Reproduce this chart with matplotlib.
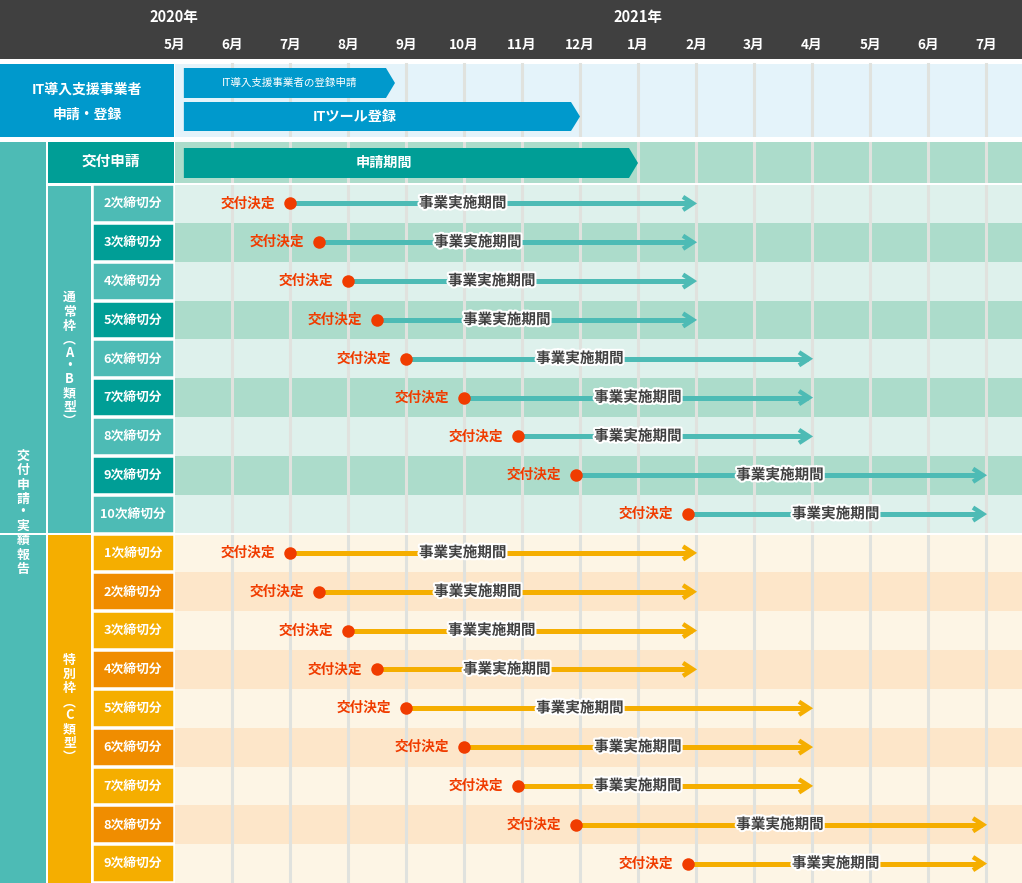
import matplotlib
matplotlib.use('Agg')
import matplotlib.pyplot as plt
from matplotlib.patches import Rectangle, Polygon
import matplotlib.patheffects as pe

plt.rcParams['font.family'] = ['Noto Sans CJK JP', 'DejaVu Sans']

# ---------------- data ----------------
years = ['2020年', '2021年']
year_month_index = [0, 8]
months = ['5月', '6月', '7月', '8月', '9月', '10月', '11月', '12月',
          '1月', '2月', '3月', '4月', '5月', '6月', '7月']

it_head = ['IT導入支援事業者', '申請・登録']
it_bar_labels = ['IT導入支援事業者の登録申請', 'ITツール登録']
it_bar_start = [0.17, 0.17]
it_bar_end = [3.81, 7.0]
it_bar_text = [1.99, 3.12]

apply_label = '交付申請'
apply_bar_label = '申請期間'
apply_start = 0.17
apply_end = 8.0
apply_text = 3.62

side_label = '交付申請・実績報告'
normal_group = '通常枠︵A・B類型︶'
special_group = '特別枠︵C類型︶'
decision_label = '交付決定'
period_label = '事業実施期間'

normal_rounds = ['2次締切分', '3次締切分', '4次締切分', '5次締切分', '6次締切分',
                 '7次締切分', '8次締切分', '9次締切分', '10次締切分']
normal_decision = [2.0, 2.5, 3.0, 3.5, 4.0, 5.0, 5.93, 6.93, 8.86]
normal_end = [9, 9, 9, 9, 11, 11, 11, 14, 14]
normal_text = [4.98, 5.24, 5.48, 5.74, 7.0, 8.0, 8.0, 10.45, 11.41]

special_rounds = ['1次締切分', '2次締切分', '3次締切分', '4次締切分', '5次締切分',
                  '6次締切分', '7次締切分', '8次締切分', '9次締切分']
special_decision = [2.0, 2.5, 3.0, 3.5, 4.0, 5.0, 5.93, 6.93, 8.86]
special_end = [9, 9, 9, 9, 11, 11, 11, 14, 14]
special_text = [4.98, 5.24, 5.48, 5.74, 7.0, 8.0, 8.0, 10.45, 11.41]

# ---------------- colours ----------------
C_HEAD = '#404040'
C_BLUE = '#0099cc'
C_BLUE_BG = '#e4f3fa'
C_TEAL_D = '#009e96'
C_TEAL_L = '#4dbbb5'
C_ROW_L = '#def1ec'
C_ROW_D = '#acdccb'
C_OR_L = '#f5ae00'
C_OR_D = '#f08d00'
C_OROW_L = '#fdf5e5'
C_OROW_D = '#fde6c9'
C_GRID = '#e0e2de'
C_RED = '#f03c00'

W, H = 1022, 883
PX = 58.0            # pixels per month
LEFT = 174.0         # pixel x of the first month

fig = plt.figure(figsize=(W / 100, H / 100), dpi=100)
ax = fig.add_axes([0, 0, 1, 1])
ax.set_xlim(-LEFT / PX, (W - LEFT) / PX)
ax.set_ylim(H, 0)
ax.axis('off')


def px(xp):
    return xp / PX - LEFT / PX


def rect(x0, x1, y0, y1, color, z=1, ec='none', lw=0):
    ax.add_patch(Rectangle((x0, y0), x1 - x0, y1 - y0, facecolor=color,
                           edgecolor=ec, linewidth=lw, zorder=z))


def arrow_bar(x0, x1, y0, y1, color, z=4):
    tip = 9 / PX
    ym = (y0 + y1) / 2
    ax.add_patch(Polygon([(x0, y0), (x1 - tip, y0), (x1, ym), (x1 - tip, y1), (x0, y1)],
                         closed=True, facecolor=color, edgecolor='none', zorder=z))


# header
rect(px(0), px(W), 0, 59, C_HEAD)
for yl, mi in zip(years, year_month_index):
    ax.text(mi, 17, yl, color='white', fontsize=10.5, fontweight='bold',
            ha='center', va='center', zorder=5)
for i, m in enumerate(months):
    ax.text(i, 45, m, color='white', fontsize=9.8, fontweight='bold',
            ha='center', va='center', zorder=5)

# IT section
rect(px(0), px(174), 64, 137, C_BLUE)
rect(px(175), px(W), 64, 137, C_BLUE_BG)
ax.text(px(87), 90, it_head[0], color='white', fontsize=10, fontweight='bold',
        ha='center', va='center', zorder=5)
ax.text(px(87), 115, it_head[1], color='white', fontsize=10, fontweight='bold',
        ha='center', va='center', zorder=5)
it_rows = [(68, 98), (102, 131)]
it_sizes = [7.6, 10.2]
it_weights = ['normal', 'bold']
for (y0, y1), s, e, lab, tx, fs, fw in zip(it_rows, it_bar_start, it_bar_end,
                                           it_bar_labels, it_bar_text, it_sizes, it_weights):
    arrow_bar(s, e, y0, y1, C_BLUE)
    ax.text(tx, (y0 + y1) / 2, lab, color='white', fontsize=fs, fontweight=fw,
            ha='center', va='center', zorder=5)

# left structure
rect(px(0), px(46), 142, H, C_TEAL_L)
rect(px(48), px(174), 142, 183, C_TEAL_D)
ax.text(px(111), 161, apply_label, color='white', fontsize=10.5, fontweight='bold',
        ha='center', va='center', zorder=5)
rect(px(175), px(W), 142, 183.5, C_ROW_D)
arrow_bar(apply_start, apply_end, 148, 178, C_TEAL_D)
ax.text(apply_text, 163, apply_bar_label, color='white', fontsize=10.2, fontweight='bold',
        ha='center', va='center', zorder=5)

ROW0 = 184.0
ROW_H = (H - ROW0) / 18
n_norm = len(normal_rounds)
split_y = ROW0 + n_norm * ROW_H

rect(px(48), px(91), ROW0 + 2, split_y - 1, C_TEAL_L)
rect(px(48), px(91), split_y + 1, H, C_OR_L)

# rows
groups = [
    (normal_rounds, normal_decision, normal_end, normal_text,
     (C_TEAL_L, C_TEAL_D), (C_ROW_L, C_ROW_D), C_TEAL_L, 0),
    (special_rounds, special_decision, special_end, special_text,
     (C_OR_L, C_OR_D), (C_OROW_L, C_OROW_D), C_OR_L, n_norm),
]
for rounds, dec, end, txt, cell_c, row_c, line_c, off in groups:
    for j, (lab, d, e, t) in enumerate(zip(rounds, dec, end, txt)):
        i = off + j
        y0 = ROW0 + i * ROW_H
        y1 = y0 + ROW_H
        yc = (y0 + y1) / 2
        rect(px(175), px(W), y0, y1, row_c[j % 2], z=1)
        rect(px(92.5), px(174), y0 + 1, y1 - 1, cell_c[j % 2], z=2, ec='white', lw=1.1)
        ax.text(px(133), yc, lab, color='white', fontsize=9.2, fontweight='bold',
                ha='center', va='center', zorder=5)
        # period line + chevron
        ch = 10 / PX
        ax.plot([d, e - 4 / PX], [yc, yc], color=line_c, lw=3.6,
                solid_capstyle='butt', zorder=4)
        ax.plot([e - 3 / PX - ch, e - 3 / PX, e - 3 / PX - ch], [yc - 6.5, yc, yc + 6.5],
                color=line_c, lw=3.2, solid_joinstyle='miter', solid_capstyle='butt', zorder=4)
        ax.plot([d], [yc], marker='o', ms=9, color=C_RED, mec='none', zorder=6)
        ax.text(d - 15 / PX, yc, decision_label, color=C_RED, fontsize=9.8,
                fontweight='bold', ha='right', va='center', zorder=6)
        ax.text(t, yc - 1, period_label, color='#404040', fontsize=10.5,
                fontweight='bold', ha='center', va='center', zorder=7,
                path_effects=[pe.withStroke(linewidth=3, foreground='white')])

# grid lines
for k in range(1, len(months)):
    ax.plot([k, k], [64, H], color=C_GRID, lw=2.2, zorder=3)

# white separators
rect(px(0), px(W), 137, 142, 'white', z=3.5)
rect(px(0), px(W), split_y - 1, split_y + 1, 'white', z=3.5)
rect(px(46), px(48), 142, H, 'white', z=3.5)
rect(px(91), px(92.5), 184, H, 'white', z=3.5)
rect(px(48), px(W), 183, 184.5, 'white', z=3.5)


def vertical_text(xc, yc, s, fs=9.3):
    adv = [14.2 if (not ch.isascii() and ch not in '︵︶・') else 13.2 for ch in s]
    y = yc - sum(adv) / 2
    for ch, a in zip(s, adv):
        ax.text(xc, y + a / 2, ch, color='white', fontsize=fs, fontweight='bold',
                ha='center', va='center', zorder=6)
        y += a


vertical_text(px(23), (142 + H) / 2, side_label)
vertical_text(px(69.5), (ROW0 + split_y) / 2, normal_group)
vertical_text(px(69.5), (split_y + H) / 2, special_group)

fig.savefig('out.png', dpi=100)
